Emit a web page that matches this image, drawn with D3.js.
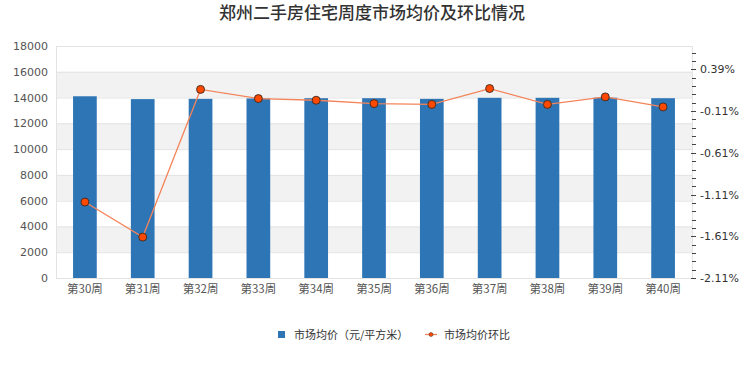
<!DOCTYPE html>
<html><head><meta charset="utf-8">
<script src="https://cdn.jsdelivr.net/npm/d3@7/dist/d3.min.js"></script>
<style>body{margin:0;background:#fff}svg{display:block}text{font-family:"Noto Sans CJK SC","Noto Sans",sans-serif}</style>
</head><body><svg id="c" width="740" height="370"></svg>
<script>
const categories = ["第30周","第31周","第32周","第33周","第34周","第35周","第36周","第37周","第38周","第39周","第40周"];
const prices = [14100,13880,13900,13930,13950,13950,13900,13980,13980,13990,13950];
const changes = [-1.20,-1.62,0.15,0.04,0.02,-0.02,-0.03,0.16,-0.03,0.06,-0.06];
const leftTicks = [0,2000,4000,6000,8000,10000,12000,14000,16000,18000];
const rightTicks = [-2.11,-1.61,-1.11,-0.61,-0.11,0.39];

const svg = d3.select("#c");
const L = 56, R = 692, T = 46, B = 278;
const x = d3.scaleBand().domain(categories).range([L, R]).paddingInner(0.59).paddingOuter(0.295);
const y = d3.scaleLinear().domain([0, 18000]).range([B, T]);
const y2 = d3.scaleLinear().domain([-2.11, 0.67]).range([B, T]);

// bands
for (let i = 0; i < leftTicks.length - 1; i++) {
  if (i % 2 === 1) {
    svg.append("rect").attr("x", L).attr("width", R - L)
      .attr("y", y(leftTicks[i + 1])).attr("height", y(leftTicks[i]) - y(leftTicks[i + 1]))
      .attr("fill", "#f2f2f2");
  }
}
// grid lines
svg.append("g").selectAll("line").data(leftTicks).join("line")
  .attr("x1", L).attr("x2", R).attr("y1", d => y(d) + 0.5).attr("y2", d => y(d) + 0.5)
  .attr("stroke", "#e3e3e3").attr("stroke-width", 1);
// plot borders
svg.append("line").attr("x1", L + 0.5).attr("x2", L + 0.5).attr("y1", T).attr("y2", B).attr("stroke", "#e3e3e3");
svg.append("line").attr("x1", R + 0.5).attr("x2", R + 0.5).attr("y1", T).attr("y2", B).attr("stroke", "#e3e3e3");

// left axis
const ga = svg.append("g").attr("transform", `translate(${L - 8},0)`)
  .call(d3.axisLeft(y).tickValues(leftTicks).tickSize(0).tickPadding(0).tickFormat(d3.format("d")));
ga.select(".domain").remove();
ga.selectAll("text").attr("fill", "#555").style("font-size", "11px").style("font-family", "'DejaVu Sans',sans-serif");

// right axis ticks (minor every 0.1%)
const minor = d3.range(-2.11, 0.68, 0.1).map(v => +v.toFixed(2));
svg.append("g").selectAll("line").data(minor).join("line")
  .attr("x1", d => rightTicks.some(t => Math.abs(t - d) < 1e-6) ? R - 1 : R)
  .attr("x2", R + 4)
  .attr("y1", d => Math.round(y2(d)) + 0.5).attr("y2", d => Math.round(y2(d)) + 0.5)
  .attr("stroke", "#444").attr("stroke-width", 1);
const gr2 = svg.append("g").attr("transform", `translate(${R + 8},0)`)
  .call(d3.axisRight(y2).tickValues(rightTicks).tickSize(0).tickPadding(0).tickFormat(d => d.toFixed(2) + "%"));
gr2.select(".domain").remove();
gr2.selectAll("text").attr("fill", "#333").style("font-size", "11px").style("font-family", "'DejaVu Sans',sans-serif");

// x axis labels
const gx = svg.append("g").attr("transform", `translate(0,${B + 7})`)
  .call(d3.axisBottom(x).tickSize(0).tickPadding(0));
gx.select(".domain").remove();
gx.selectAll("text").attr("fill", "#555").style("font-size", "11.5px");

// bars
svg.append("g").selectAll("rect").data(prices).join("rect")
  .attr("x", (d, i) => x(categories[i])).attr("width", x.bandwidth())
  .attr("y", d => y(d)).attr("height", d => B - y(d))
  .attr("fill", "#2e75b6");

// line
const line = d3.line().x((d, i) => x(categories[i]) + x.bandwidth() / 2).y(d => y2(d));
svg.append("path").datum(changes).attr("d", line).attr("fill", "none")
  .attr("stroke", "#f4845a").attr("stroke-width", 1.3);
svg.append("g").selectAll("circle").data(changes).join("circle")
  .attr("cx", (d, i) => x(categories[i]) + x.bandwidth() / 2).attr("cy", d => y2(d))
  .attr("r", 4).attr("fill", "#ff4800").attr("stroke", "#3a2a20").attr("stroke-width", 0.9);

// title
svg.append("text").attr("x", 372).attr("y", 19).attr("text-anchor", "middle")
  .attr("fill", "#333").style("font-size", "17px").style("font-weight", "500")
  .text("郑州二手房住宅周度市场均价及环比情况");

// legend
svg.append("rect").attr("x", 278).attr("y", 331).attr("width", 7).attr("height", 7).attr("fill", "#2e75b6");
svg.append("text").attr("x", 294).attr("y", 338.5).attr("fill", "#333").style("font-size", "11px").text("市场均价（元/平方米）");
svg.append("line").attr("x1", 425).attr("x2", 437).attr("y1", 334.5).attr("y2", 334.5).attr("stroke", "#f4845a").attr("stroke-width", 1.3);
svg.append("circle").attr("cx", 431).attr("cy", 334.5).attr("r", 2).attr("fill", "#ff4800").attr("stroke", "#3a2a20").attr("stroke-width", 0.5);
svg.append("text").attr("x", 444).attr("y", 338.5).attr("fill", "#333").style("font-size", "11px").text("市场均价环比");
</script></body></html>
